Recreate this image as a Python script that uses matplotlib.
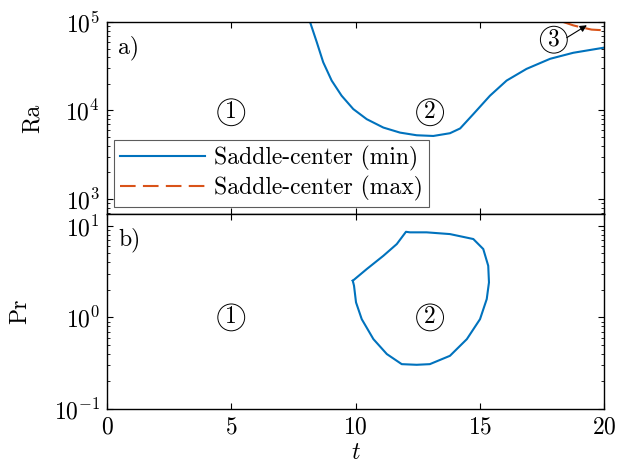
import numpy as np
import matplotlib
matplotlib.use("Agg")
import matplotlib.pyplot as plt

plt.rcParams["font.family"] = "serif"
plt.rcParams["font.serif"] = ["cmr10"]
plt.rcParams["mathtext.fontset"] = "cm"
plt.rcParams["axes.formatter.use_mathtext"] = True
plt.rcParams["font.size"] = 17

BLUE = "#0072BD"
ORANGE = "#D95319"

# ---------- data ----------
# panel a) Ra, saddle-center (min)
t_ra_min = [8.17, 8.44, 8.70, 9.04, 9.44, 9.91, 10.45, 11.12, 11.79, 12.46,
            13.13, 13.80, 14.21, 14.74, 15.41, 16.08, 16.88, 17.83, 18.76, 20.0]
log_ra_min = [5.0, 4.773, 4.545, 4.338, 4.167, 4.016, 3.902, 3.807, 3.75, 3.72,
              3.712, 3.743, 3.797, 3.959, 4.167, 4.338, 4.47, 4.584, 4.652, 4.71]
# panel a) Ra, saddle-center (max)
t_ra_max = [18.36, 18.76, 19.03, 19.5, 20.0]
log_ra_max = [5.0, 4.962, 4.943, 4.914, 4.906]

# panel b) Pr, closed saddle-center curve
t_pr = [9.89, 10.45, 11.12, 11.66, 12.03, 12.19, 12.86, 13.80, 14.74, 15.14,
        15.34, 15.37, 15.28, 15.01, 14.48, 13.80, 12.99, 12.46, 11.86, 11.26,
        10.72, 10.25, 10.02, 9.94, 9.89]
log_pr = [0.40, 0.527, 0.672, 0.80, 0.934, 0.928, 0.928, 0.909, 0.855, 0.746,
          0.563, 0.382, 0.20, -0.019, -0.237, -0.419, -0.51, -0.517, -0.51, -0.40,
          -0.237, -0.019, 0.164, 0.345, 0.40]

region_t = [5, 13]
region_labels = ["1", "2"]

fig = plt.figure(figsize=(6.17, 4.74), dpi=100)
ax1 = fig.add_axes([0.1734, 0.5485, 0.8056, 0.4051])
ax2 = fig.add_axes([0.1734, 0.137, 0.8056, 0.4115])

ax1.semilogy(t_ra_min, 10 ** np.array(log_ra_min), color=BLUE, lw=1.5,
             label="Saddle-center (min)")
ax1.semilogy(t_ra_max, 10 ** np.array(log_ra_max), color=ORANGE, lw=1.5,
             ls=(0, (7.5, 3.5)), label="Saddle-center (max)")
ax1.set_ylim(10 ** 2.83, 1e5)
ax1.set_ylabel("Ra", labelpad=16)

ax2.semilogy(t_pr, 10 ** np.array(log_pr), color=BLUE, lw=1.5)
ax2.set_ylim(0.1, 10 ** 1.128)
ax2.set_ylabel("Pr", labelpad=16)
ax2.set_xlabel("$t$", labelpad=3)

for ax in (ax1, ax2):
    ax.set_xlim(0, 20)
    ax.set_xticks([0, 5, 10, 15, 20])
    ax.tick_params(which="both", direction="in", top=True, right=True)
    ax.tick_params(which="major", length=4, pad=5)
    ax.tick_params(which="minor", length=2)
    for s in ax.spines.values():
        s.set_linewidth(1.0)
ax1.tick_params(labelbottom=False)

circ = dict(boxstyle="circle,pad=0.1", fc="none", ec="black", lw=0.7)
for t, lab in zip(region_t, region_labels):
    ax1.text(t, 10 ** 3.98, lab, ha="center", va="center", bbox=circ)
    ax2.text(t, 1.0, lab, ha="center", va="center", bbox=circ)

ax1.annotate("", xy=(19.31, 10 ** 4.963), xytext=(18.5, 10 ** 4.823),
             arrowprops=dict(arrowstyle="-|>", color="black", lw=0.8,
                             mutation_scale=10, shrinkA=0, shrinkB=0))
ax1.text(17.98, 10 ** 4.80, "3", ha="center", va="center", bbox=circ)

ax1.text(0.022, 0.868, "a)", transform=ax1.transAxes, ha="left", va="center")
ax2.text(0.022, 0.868, "b)", transform=ax2.transAxes, ha="left", va="center")

leg = ax1.legend(loc="lower left", bbox_to_anchor=(0.0, 0.0), fancybox=False,
                 edgecolor="#333333", handlelength=3.6, borderpad=0.25,
                 labelspacing=0.2, handletextpad=0.4, borderaxespad=0.3)
leg.get_frame().set_linewidth(0.8)

fig.savefig("out.png", dpi=100)
